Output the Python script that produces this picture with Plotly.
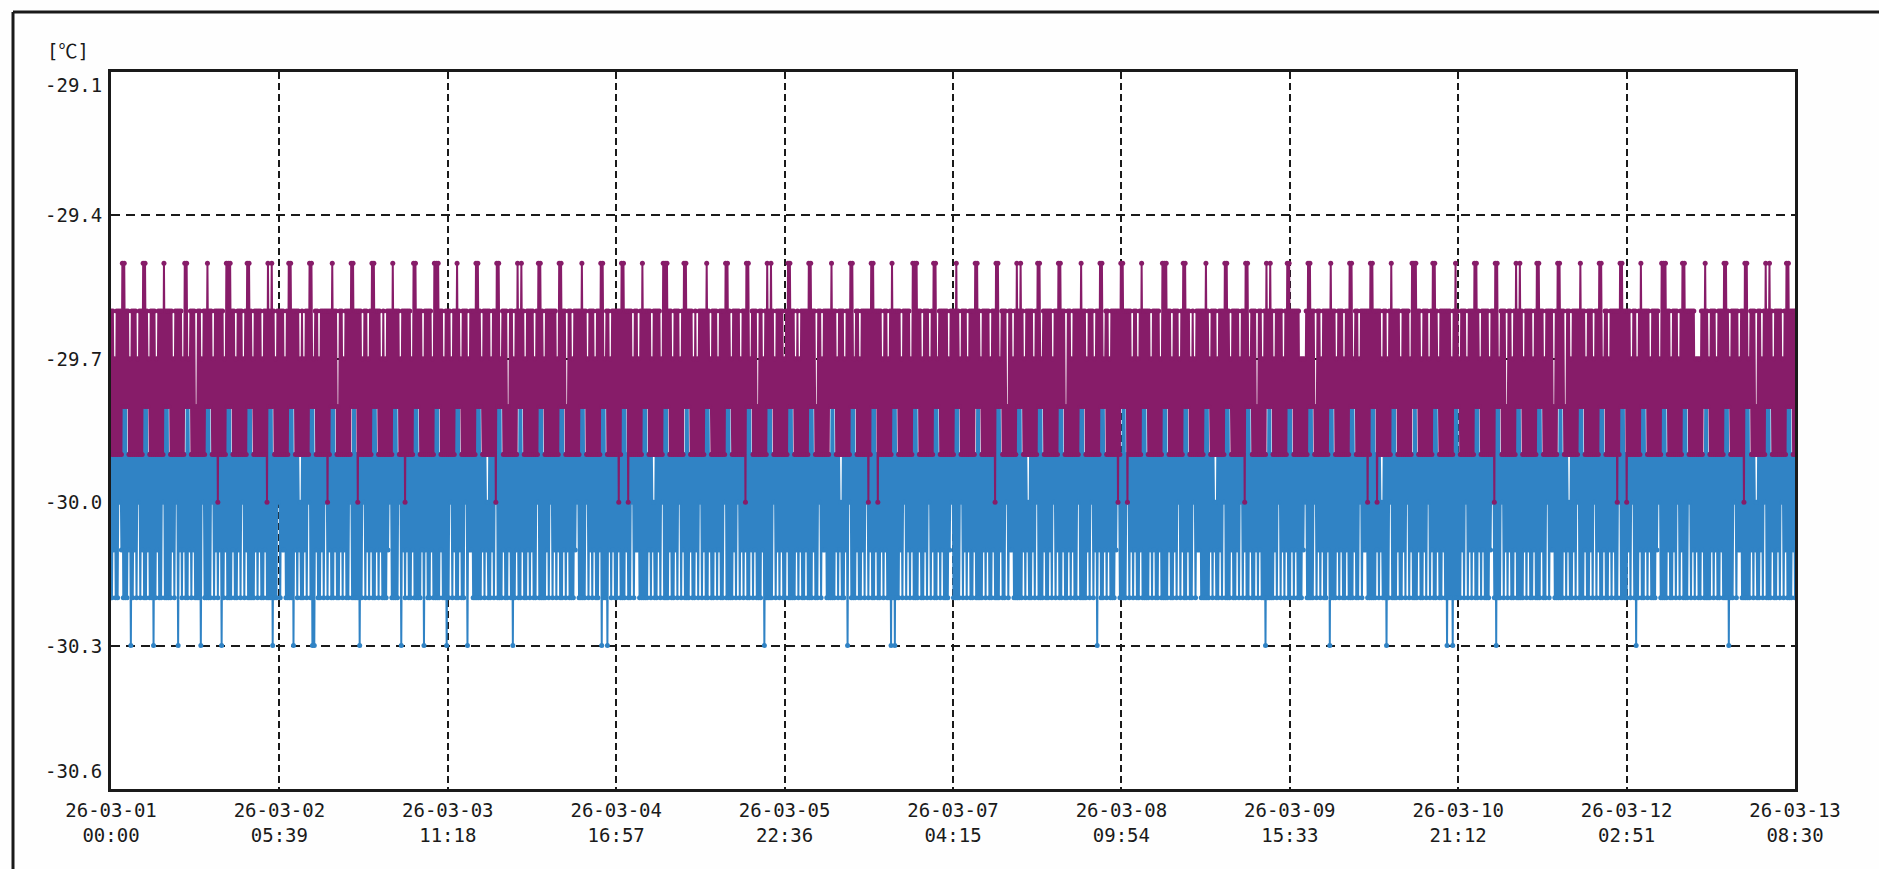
import pandas as pd
import plotly.graph_objects as go

# ---------------- data ----------------
start_time = "2026-03-01 00:00"
end_time = "2026-03-13 08:30"

tick_times = ["2026-03-01 00:00", "2026-03-02 05:39", "2026-03-03 11:18", "2026-03-04 16:57",
              "2026-03-05 22:36", "2026-03-07 04:15", "2026-03-08 09:54", "2026-03-09 15:33",
              "2026-03-10 21:12", "2026-03-12 02:51", "2026-03-13 08:30"]
tick_text = ["26-03-01<br>00:00", "26-03-02<br>05:39", "26-03-03<br>11:18", "26-03-04<br>16:57",
             "26-03-05<br>22:36", "26-03-07<br>04:15", "26-03-08<br>09:54", "26-03-09<br>15:33",
             "26-03-10<br>21:12", "26-03-12<br>02:51", "26-03-13<br>08:30"]
y_ticks = [-29.1, -29.4, -29.7, -30.0, -30.3, -30.6]
y_tick_text = ["-29.1", "-29.4", "-29.7", "-30.0", "-30.3", "-30.6"]
unit_label = "[℃]"

# readings coded one character per sample (0.1 ℃ steps)
purple_code = {"5": -29.5, "6": -29.6, "7": -29.7, "8": -29.8, "9": -29.9, "0": -30.0}
blue_code = {"8": -29.8, "9": -29.9, "0": -30.0, "1": -30.1, "2": -30.2, "3": -30.3}

purple_lead = "696979696969"
purple_cycles = [
    "5858686979696969796969", "5858687969696979696969", "5868686969796969696979", "5858786969698969697969",
    "6858686979696069696979", "5858586969796969697969", "5858687969696969796960", "5868586979696969697969",
    "5858686969697969796969", "5858786969796969696069", "6858686989696979696969", "5858686069697969697969",
    "5858686969796979696969", "5868686979696069696979", "5858686969796969696979", "5858586969796969697969",
    "6858687969696979696969", "5858687969696969796960", "5858786969698969697969", "5868586979696969697969",
    "5858687969696969696979", "5858686989696979696969", "6858686979696969796969", "5858786969796969696069",
    "5858686069697969697969", "5868686969796969696979", "5858586969796969697969", "5858686969796979696969",
    "6858687969696979696969", "5858687969696969796960", "5858786969698969697969", "5868586979696969697969",
    "5858686979697969696969", "5858686989696979696969", "6858686979696969796969", "5858786969796969696069",
    "5858686069697969697969", "5868686969796969696979", "5858586969796969697969", "5858786969696969796969",
    "6858687969696979696969", "5858687969696969796960", "5858786969698969697969", "5868586979696969697969",
    "5858786969696969796969", "5858686989696979696969", "6858686979696969796969", "5858786969796969696069",
    "5858686069697969697969", "5868686969796969696979", "5858586969796969697969", "5858686979697969696969",
    "6858687969696979696969", "5858687969696969796960", "5858786969698969697969", "5868586979696969697969",
    "5858686969696979797969", "5858686989696979696969", "6858686979696969796969", "5858786969796969696069",
    "5858686069697969697969", "5868686969796969696979", "5858586969796969697969", "5858687969696969696979",
    "6858687969696979696969", "5858687969696969796960", "5858786969698969697969", "5868586979696969697969",
    "5858686979696969698969", "5858686989696979696969", "6858686979696969796969", "5858786969796969696069",
    "5858686069697969697969", "5868686969796969696979", "5858586969796969697969", "5858686969696979797969",
    "6858687969696979696969", "5858687969696969796960", "5858786969698969697969", "5868586979696969697969",
]
purple_tail = "5858686969"

blue_lead = "929192929091"
blue_cycles = [
    "8282829193929192909291", "8282819292939291929290", "8282829291929093919291", "9282819291929292939092",
    "8282829092919291939291", "8282829192929192909291", "8282829291929192929192", "8282839292909291919292",
    "8282839192910292919290", "8283839192929192909291", "8282819292919291929290", "9282829293929092919291",
    "8282819291929292919092", "8282829093919291929291", "8282829291939192929192", "8282829192929392909291",
    "8282819292909391919292", "8282829192910292919290", "8282829192929192939291", "9282819292919291929290",
    "8282829291929092919291", "8282819291929292919092", "8282829092919291929291", "8382829391929192929192",
    "8282819292909291919292", "8282829192910292919290", "8282829192929192909291", "9282829192929192909291",
    "8282819292919291929290", "8282829291929092919291", "8282819291929292919392", "8282829092919291929291",
    "8282829291929192929192", "8282819292909291919292", "9282829192910292919390", "8282829192929192909291",
    "8282819292919291929293", "8283829291929092919291", "8282829192929192909291", "8282819291929292919092",
    "8282829092919291929291", "9282829291929192929192", "8282819292909291919292", "8282829192910292919290",
    "8282829192929192909291", "8282819292919291929290", "8282829291929092919391", "8282819291929292919092",
    "9282829092919291929291", "8282829291929192929192", "8282829192929192909291", "8282819292909291919292",
    "8282829192910292919290", "8282829192929192909291", "8282819292919291929293", "9282829291929092919291",
    "8282819291929292919092", "8282829092919291929291", "8382829291929192929192", "8282819292909291919292",
    "8282829192910292939290", "8282829192929192909291", "9282829192929192909291", "8282819292919293929293",
    "8282829291929092919291", "8282819291929292919092", "8382829092919291929291", "8282829291929192929192",
    "8282819292909291919292", "9282829192910292919290", "8282829192929192909291", "8282819292919291929290",
    "8282829291929092939291", "8282819291929292919092", "8282829192929192909291", "8282829092919291929291",
    "9282829291929192929192", "8282839292909291919292", "8282829192910292919290", "8282829192929192909291",
]
blue_tail = "8282829192"

# ---------------- build series ----------------
purple_str = purple_lead + "".join(purple_cycles) + purple_tail
blue_str = blue_lead + "".join(blue_cycles) + blue_tail
purple_vals = [purple_code[c] for c in purple_str]
blue_vals = [blue_code[c] for c in blue_str]
purple_t = pd.date_range(start_time, end_time, periods=len(purple_vals))
blue_t = pd.date_range(start_time, end_time, periods=len(blue_vals))

PURPLE = "#871c69"
BLUE = "#3083c5"
INK = "#1a1a1a"
FONT = "DejaVu Sans Mono, Liberation Mono, Noto Sans CJK JP, monospace"

fig = go.Figure()
fig.add_trace(go.Scatter(x=blue_t, y=blue_vals, mode="lines+markers",
                         line=dict(color=BLUE, width=2, simplify=False),
                         marker=dict(size=5, color=BLUE), hoverinfo="skip", showlegend=False))
fig.add_trace(go.Scatter(x=purple_t, y=purple_vals, mode="lines+markers",
                         line=dict(color=PURPLE, width=2, simplify=False),
                         marker=dict(size=5, color=PURPLE), hoverinfo="skip", showlegend=False))

W, H = 1879, 869
ML, MR, MT, MB = 111, 84, 72, 80
pw, ph = W - ML - MR, H - MT - MB

def px_x(p):
    return (p - ML) / pw

def px_y(p):
    return (H - MB - p) / ph

annotations = []
for v, t in zip(y_ticks, y_tick_text):
    shift = 0
    if v == y_ticks[0]:
        shift = -13
    elif v == y_ticks[-1]:
        shift = 18
    annotations.append(dict(x=0, xref="paper", y=v, yref="y", text=t, showarrow=False,
                            xanchor="right", yanchor="middle", xshift=-7, yshift=shift,
                            font=dict(family=FONT, size=19, color=INK)))
annotations.append(dict(x=0, xref="paper", y=1, yref="paper", text=unit_label, showarrow=False,
                        xanchor="right", yanchor="bottom", xshift=-20, yshift=8,
                        font=dict(family=FONT, size=19, color=INK)))

shapes = [
    dict(type="line", xref="paper", yref="paper", x0=px_x(13), x1=px_x(13), y0=px_y(12), y1=px_y(900),
         line=dict(color=INK, width=3)),
    dict(type="line", xref="paper", yref="paper", x0=px_x(13), x1=px_x(1900), y0=px_y(12), y1=px_y(12),
         line=dict(color=INK, width=3)),
]

fig.update_layout(
    width=W, height=H, autosize=False,
    margin=dict(l=ML, r=MR, t=MT, b=MB, pad=0),
    paper_bgcolor="#fefefe", plot_bgcolor="#ffffff",
    showlegend=False,
    annotations=annotations,
    shapes=shapes,
    font=dict(family=FONT, size=19, color=INK),
)
fig.update_xaxes(
    type="date", range=[start_time, end_time],
    tickmode="array", tickvals=tick_times, ticktext=tick_text,
    showgrid=True, gridcolor=INK, gridwidth=2, griddash="7px,4px",
    showline=True, linecolor=INK, linewidth=3, mirror=True,
    ticks="", ticklabelstandoff=2, zeroline=False,
    tickfont=dict(family=FONT, size=19, color=INK),
)
fig.update_yaxes(
    range=[-30.6, -29.1], tickmode="array", tickvals=y_ticks, showticklabels=False,
    showgrid=True, gridcolor=INK, gridwidth=2, griddash="9px,6px",
    showline=True, linecolor=INK, linewidth=3, mirror=True,
    ticks="", zeroline=False,
)

fig.write_html("out.html", config={"displayModeBar": False},
               post_script="document.body.style.margin='0px';")
